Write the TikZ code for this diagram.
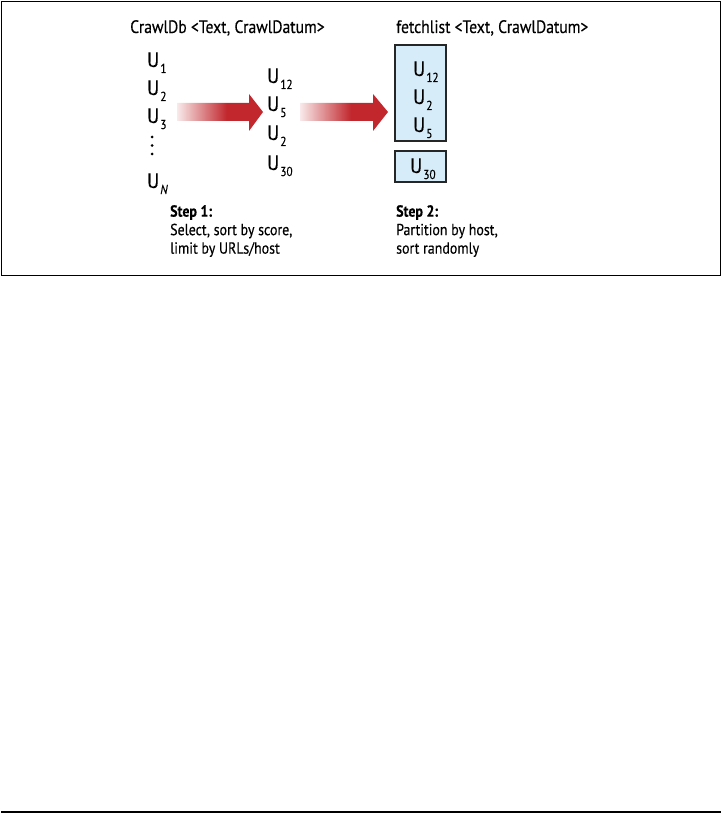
\documentclass[tikz,border=0pt]{standalone}
\usepackage{fontspec}
\setmainfont{PT Sans}[FakeStretch=0.87,FakeBold=0.35]
\definecolor{arrowred}{RGB}{193,39,45}
\definecolor{boxblue}{RGB}{214,236,248}
\pgfdeclarehorizontalshading{redfade}{100bp}{color(0bp)=(white); color(25bp)=(white!90!arrowred); color(54bp)=(arrowred); color(100bp)=(arrowred)}
\newcommand{\Usub}[1]{U\kern1.2pt\raisebox{-6pt}{\fontsize{13}{13}\selectfont #1}}
\tikzset{
  ulabel/.style={anchor=base west, inner sep=0pt, font=\fontsize{21}{21}\selectfont},
  title/.style={anchor=base west, inner sep=0pt, font=\fontsize{18}{18}\selectfont},
  steptext/.style={anchor=north west, inner sep=0pt, align=left, font=\fontsize{16}{18.5}\selectfont},
  bigarrow/.style={shading=redfade, draw=none},
  listbox/.style={draw=black!85, line width=1.5pt, fill=boxblue},
  dotmark/.style={fill=black, draw=none}
}
\begin{document}
\begin{tikzpicture}[x=1pt,y=-1pt]
\useasboundingbox (0,0) rectangle (722,813);
% outer frame
\draw[line width=1.5pt] (1.5,1.5) rectangle (720.5,275.5);
\draw[line width=1.5pt] (1,812) -- (721,812);
% titles
\node[title] (t1) at (130,33) {CrawlDb <Text, CrawlDatum>};
\node[title] (t2) at (396,33) {fetchlist <Text, CrawlDatum>};
% left column
\node[ulabel] (a1) at (147,67) {\Usub{1}};
\node[ulabel] (a2) at (147,95) {\Usub{2}};
\node[ulabel] (a3) at (147,123) {\Usub{3}};
\fill[dotmark] (152,137) circle (1.5);
\fill[dotmark] (152,145.5) circle (1.5);
\fill[dotmark] (152,154) circle (1.5);
\node[ulabel] (an) at (147,188) {\Usub{\itshape N}};
% middle column
\node[ulabel] (b1) at (267,83) {\Usub{12}};
\node[ulabel] (b2) at (267,111) {\Usub{5}};
\node[ulabel] (b3) at (267,140) {\Usub{2}};
\node[ulabel] (b4) at (267,170) {\Usub{30}};
% arrows
\path[bigarrow] (177,103) -- (249,103) -- (249,94) -- (263,112) -- (249,131) -- (249,121) -- (177,121) -- cycle;
\path[bigarrow] (300,103) -- (373,103) -- (373,94) -- (388,112) -- (373,131) -- (373,121) -- (300,121) -- cycle;
% right boxes
\draw[listbox] (395,45) rectangle (446,141);
\draw[listbox] (395,151) rectangle (446,182);
\node[ulabel] (c1) at (413,76) {\Usub{12}};
\node[ulabel] (c2) at (413,104) {\Usub{2}};
\node[ulabel] (c3) at (413,132) {\Usub{5}};
\node[ulabel] (c4) at (410,173) {\Usub{30}};
% step texts
\node[steptext] (s1) at (170,205) {\textbf{Step 1:}\\Select, sort by score,\\limit by URLs/host};
\node[steptext] (s2) at (396,205) {\textbf{Step 2:}\\Partition by host,\\sort randomly};
\end{tikzpicture}
\end{document}
